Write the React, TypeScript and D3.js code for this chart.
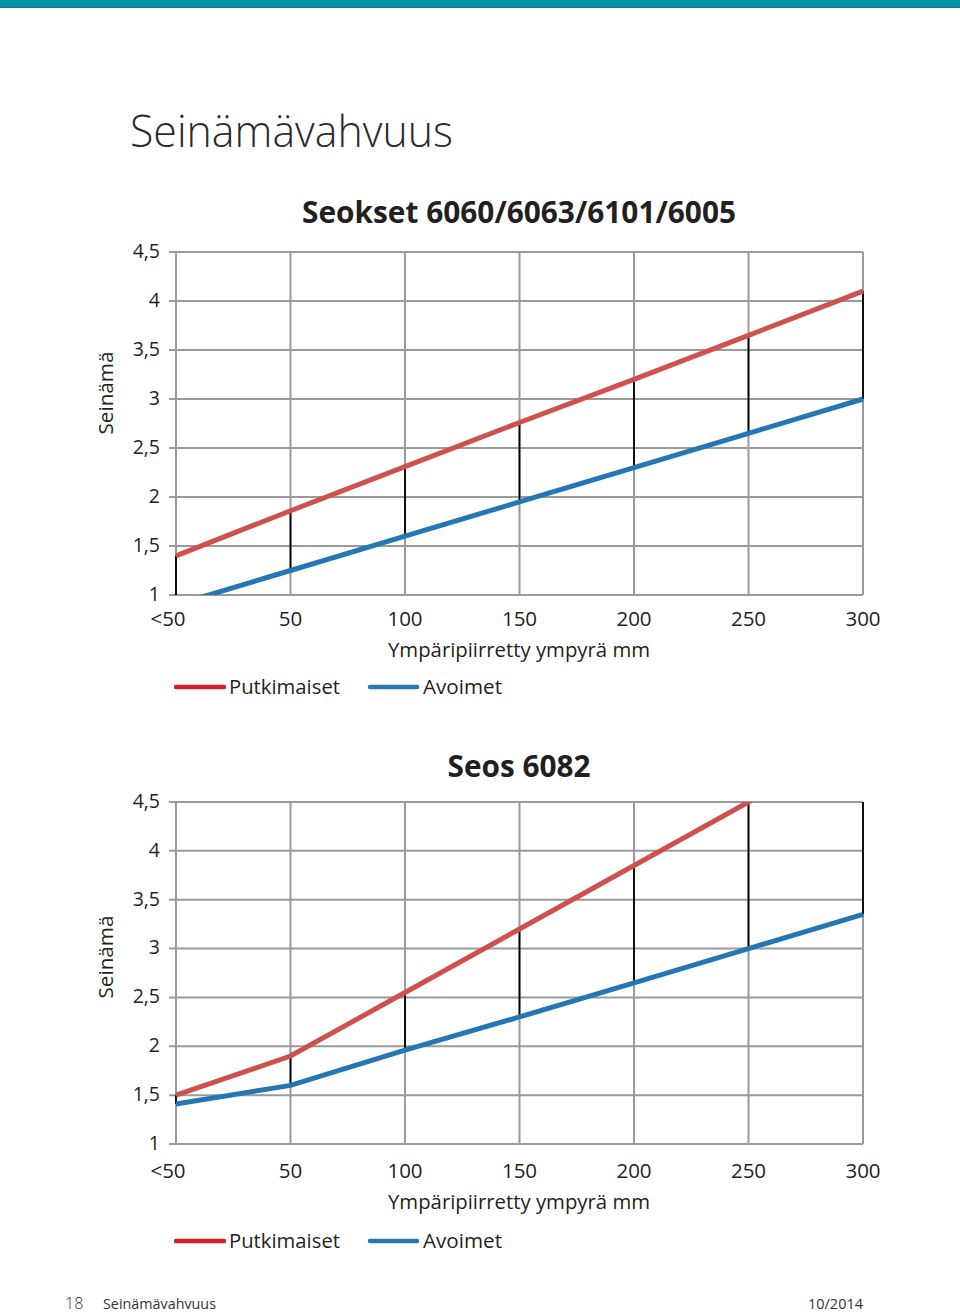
import React from "react";
import * as d3 from "d3";

const categories = ["<50", "50", "100", "150", "200", "250", "300"];
const yTicks = [1, 1.5, 2, 2.5, 3, 3.5, 4, 4.5];
const chart1Putkimaiset = [1.4, 1.86, 2.31, 2.76, 3.2, 3.65, 4.1];
const chart1Avoimet = [0.9, 1.25, 1.6, 1.95, 2.3, 2.65, 3.0];
const chart2Putkimaiset = [1.5, 1.9, 2.55, 3.2, 3.85, 4.5, 5.15];
const chart2Avoimet = [1.41, 1.6, 1.96, 2.3, 2.65, 3.0, 3.35];

const FONT = "'Open Sans', 'Noto Sans', sans-serif";
const RED = "#cf514d";
const BLUE = "#2477b3";
const GRID = "#9a9a9a";
const TEXT = "#231f20";

type ChartProps = {
  id: string;
  top: number;
  bottom: number;
  title: string;
  titleY: number;
  titleWidth: number;
  red: number[];
  blue: number[];
  tickOff: number;
  axisOff: number;
  legendOff: number;
  ylabelY: number;
};

function Chart(p: ChartProps) {
  const left = 176;
  const right = 863;
  const x = d3.scalePoint<string>().domain(categories).range([left, right]);
  const y = d3.scaleLinear().domain([1, 4.5]).range([p.bottom, p.top]);
  const line = d3
    .line<number>()
    .x((_, i) => x(categories[i]) as number)
    .y((d) => y(d));
  const clipId = "clip-" + p.id;
  return (
    <g>
      <defs>
        <clipPath id={clipId}>
          <rect x={left - 3} y={p.top} width={right - left + 6} height={p.bottom - p.top} />
        </clipPath>
      </defs>
      <text
        x={519}
        y={p.titleY}
        textAnchor="middle"
        fontFamily={FONT}
        fontWeight={700}
        fontSize={30}
        fill={TEXT}
        textLength={p.titleWidth}
        lengthAdjust="spacingAndGlyphs"
      >
        {p.title}
      </text>
      {yTicks.map((t) => (
        <line key={"h" + t} x1={169} x2={right} y1={y(t)} y2={y(t)} stroke={GRID} strokeWidth={2} />
      ))}
      {categories.map((c) => (
        <line key={"v" + c} x1={x(c)} x2={x(c)} y1={p.top} y2={p.bottom} stroke={GRID} strokeWidth={2} />
      ))}
      {categories.map((c, i) => {
        const r = Math.min(p.red[i], 4.5);
        const b = Math.max(p.blue[i], 1);
        return (
          <line key={"c" + c} x1={x(c)} x2={x(c)} y1={y(r)} y2={y(b)} stroke="#000" strokeWidth={1.8} />
        );
      })}
      <g clipPath={`url(#${clipId})`}>
        <path d={line(p.blue) || ""} fill="none" stroke={BLUE} strokeWidth={5} />
        <path d={line(p.red) || ""} fill="none" stroke={RED} strokeWidth={5} />
      </g>
      {yTicks.map((t) => (
        <text
          key={"yt" + t}
          x={160}
          y={y(t) - 1}
          dy="0.35em"
          textAnchor="end"
          fontFamily={FONT}
          fontSize={19.5}
          fill={TEXT}
        >
          {String(t).replace(".", ",")}
        </text>
      ))}
      {categories.map((c, i) => (
        <text
          key={"xt" + c}
          x={(x(c) as number) + (i === 0 ? -8 : 0)}
          y={p.bottom + p.tickOff}
          textAnchor="middle"
          fontFamily={FONT}
          fontSize={20.5}
          fill={TEXT}
        >
          {c}
        </text>
      ))}
      <text
        x={519}
        y={p.bottom + p.axisOff}
        textAnchor="middle"
        fontFamily={FONT}
        fontSize={20.5}
        fill={TEXT}
        textLength={262}
        lengthAdjust="spacingAndGlyphs"
      >
        Ympäripiirretty ympyrä mm
      </text>
      <text
        transform={`translate(113,${p.ylabelY}) rotate(-90)`}
        textAnchor="middle"
        fontFamily={FONT}
        fontSize={20.5}
        fill={TEXT}
        textLength={83}
        lengthAdjust="spacingAndGlyphs"
      >
        Seinämä
      </text>
      <g transform={`translate(0,${p.bottom + p.legendOff})`}>
        <line x1={176} x2={224} y1={0} y2={0} stroke="#d21f2b" strokeWidth={4.5} strokeLinecap="round" />
        <text x={229} y={0} dy="0.35em" fontFamily={FONT} fontSize={20.5} fill={TEXT} textLength={111} lengthAdjust="spacingAndGlyphs">
          Putkimaiset
        </text>
        <line x1={370} x2={417} y1={0} y2={0} stroke="#2a78b0" strokeWidth={4.5} strokeLinecap="round" />
        <text x={423} y={0} dy="0.35em" fontFamily={FONT} fontSize={20.5} fill={TEXT} textLength={79} lengthAdjust="spacingAndGlyphs">
          Avoimet
        </text>
      </g>
    </g>
  );
}

export default function App() {
  return (
    <svg width={960} height={1314} style={{ position: "absolute", left: 0, top: 0, background: "#fff" }}>
      <rect x={0} y={0} width={960} height={8} fill="#0791a6" />
      <rect x={0} y={7} width={960} height={1} fill="#0b7c88" />
      <text x={130} y={147} fontFamily={FONT} fontWeight={300} fontSize={44} fill="#2b2b2b" textLength={323} lengthAdjust="spacingAndGlyphs">
        Seinämävahvuus
      </text>
      <Chart
        id="a"
        top={252}
        bottom={595}
        title="Seokset 6060/6063/6101/6005"
        titleY={223}
        titleWidth={434}
        red={chart1Putkimaiset}
        blue={chart1Avoimet}
        tickOff={31}
        axisOff={62}
        legendOff={92}
        ylabelY={393}
      />
      <Chart
        id="b"
        top={802}
        bottom={1144}
        title="Seos 6082"
        titleY={777}
        titleWidth={143}
        red={chart2Putkimaiset}
        blue={chart2Avoimet}
        tickOff={34}
        axisOff={65}
        legendOff={97}
        ylabelY={957}
      />
      <text x={65} y={1309} fontFamily={FONT} fontSize={16} fill="#333" fontWeight={300}>
        18
      </text>
      <text x={103} y={1309} fontFamily={FONT} fontSize={15} fill="#333" textLength={113} lengthAdjust="spacingAndGlyphs">
        Seinämävahvuus
      </text>
      <text x={808} y={1309} fontFamily={FONT} fontSize={15} fill="#333" textLength={55} lengthAdjust="spacingAndGlyphs">
        10/2014
      </text>
    </svg>
  );
}
